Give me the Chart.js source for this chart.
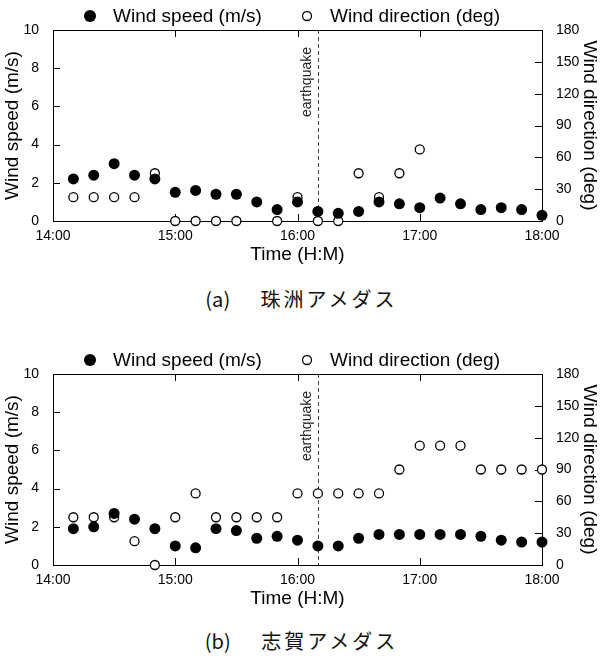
<!DOCTYPE html>
<html><head><meta charset="utf-8">
<script src="https://cdn.jsdelivr.net/npm/chart.js@4.4.1/dist/chart.umd.min.js"></script>
<style>
body{margin:0;background:#fff;width:603px;height:664px;position:relative;overflow:hidden}
.wrap{position:absolute;left:0;width:603px;height:270px}
.cap{position:absolute;left:0;width:603px;text-align:center;font-family:"Noto Sans CJK JP";font-size:20px;line-height:24px;letter-spacing:3px;color:#111;white-space:pre}
.cap span{letter-spacing:0}
</style></head><body>
<div class="wrap" style="top:0"><canvas id="c1" width="603" height="270"></canvas></div>
<div class="wrap" style="top:344px"><canvas id="c2" width="603" height="270"></canvas></div>
<div class="cap" style="top:287px"><span>(a)</span>　 珠洲アメダス</div>
<div class="cap" style="top:629px"><span>(b)</span>　 志賀アメダス</div>
<script>
// ---- data ----
const times = ["14:10","14:20","14:30","14:40","14:50","15:00","15:10","15:20","15:30","15:40","15:50","16:00",
               "16:10","16:20","16:30","16:40","16:50","17:00","17:10","17:20","17:30","17:40","17:50","18:00"];
const suzuSpeed  = [2.2,2.4,3.0,2.4,2.2,1.5,1.6,1.4,1.4,1.0,0.6,1.0,0.5,0.4,0.5,1.0,0.9,0.7,1.2,0.9,0.6,0.7,0.6,0.3];
const suzuDir    = [22.5,22.5,22.5,22.5,45,0,0,0,0,null,0,22.5,0,0,45,22.5,45,67.5,null,null,null,null,null,null];
const shikaSpeed = [1.9,2.0,2.7,2.4,1.9,1.0,0.9,1.9,1.8,1.4,1.5,1.3,1.0,1.0,1.4,1.6,1.6,1.6,1.6,1.6,1.5,1.3,1.2,1.2];
const shikaDir   = [45,45,45,22.5,0,45,67.5,45,45,45,45,67.5,67.5,67.5,67.5,67.5,90,112.5,112.5,112.5,90,90,90,90];
const xTickMin = "14:00", xTickMax = "18:00";
const quakeTime = "16:10";
const seriesNames = ["Wind speed (m/s)", "Wind direction (deg)"];
const xTitle = "Time (H:M)";
const quakeLabel = "earthquake";

const toMin = t => { const [h,m] = t.split(":").map(Number); return h*60+m; };
const fmt = v => Math.floor(v/60) + ":" + String(v%60).padStart(2,"0");
const FONT = "'Liberation Sans', Arial, sans-serif";

const framePlugin = {
  id: "frame",
  beforeDatasetsDraw(chart) {
    const {ctx, chartArea: a, scales} = chart;
    ctx.save();
    ctx.strokeStyle = "#000"; ctx.lineWidth = 1;
    ctx.strokeRect(Math.round(a.left)+0.5, Math.round(a.top)+0.5, Math.round(a.right-a.left), Math.round(a.bottom-a.top));
    const L = 7;
    ctx.beginPath();
    scales.y.ticks.forEach(t => { if (t.value<=scales.y.min || t.value>=scales.y.max) return;
      const p = Math.round(scales.y.getPixelForValue(t.value))+0.5; ctx.moveTo(a.left, p); ctx.lineTo(a.left+L, p); });
    scales.y1.ticks.forEach(t => { if (t.value<=scales.y1.min || t.value>=scales.y1.max) return;
      const p = Math.round(scales.y1.getPixelForValue(t.value))+0.5; ctx.moveTo(a.right, p); ctx.lineTo(a.right-L, p); });
    scales.x.ticks.forEach(t => { if (t.value<=scales.x.min || t.value>=scales.x.max) return;
      const p = Math.round(scales.x.getPixelForValue(t.value))+0.5; ctx.moveTo(p, a.bottom); ctx.lineTo(p, a.bottom-L);
      ctx.moveTo(p, a.top); ctx.lineTo(p, a.top+L); });
    ctx.stroke();
    // earthquake line
    const qx = Math.round(scales.x.getPixelForValue(toMin(quakeTime)))+0.5;
    ctx.strokeStyle = "#444"; ctx.setLineDash([4,3]);
    ctx.beginPath(); ctx.moveTo(qx, a.top); ctx.lineTo(qx, a.bottom); ctx.stroke();
    ctx.setLineDash([]);
    ctx.translate(qx - 11, a.top + 17); ctx.rotate(-Math.PI/2);
    ctx.fillStyle = "#222"; ctx.font = "14px " + FONT; ctx.textAlign = "right"; ctx.textBaseline = "middle";
    ctx.fillText(quakeLabel, 0, 0);
    ctx.restore();
  },
  afterDraw(chart) {
    const {ctx} = chart;
    const ds = chart.data.datasets;
    const items = [{x: 90, tx: 113, d: ds[0], r: 6}, {x: 307, tx: 330, d: ds[1], r: 4.5}];
    const y = 16;
    ctx.save();
    ctx.font = "19px " + FONT; ctx.textBaseline = "middle"; ctx.textAlign = "left";
    items.forEach(it => {
      ctx.beginPath(); ctx.arc(it.x, y, it.r, 0, Math.PI*2);
      ctx.fillStyle = it.d.backgroundColor; ctx.fill();
      if (it.d.borderWidth) { ctx.lineWidth = it.d.borderWidth; ctx.strokeStyle = it.d.borderColor; ctx.stroke(); }
      ctx.fillStyle = "#000"; ctx.fillText(it.d.label, it.tx, y + 1);
    });
    ctx.restore();
  }
};

function makeChart(id, speed, dir) {
  const H = 270;
  return new Chart(document.getElementById(id), {
    type: "scatter",
    data: { datasets: [
      { label: seriesNames[0], data: times.map((t,i)=>({x: toMin(t), y: speed[i]})), yAxisID: "y",
        pointRadius: 5.5, pointHoverRadius: 5.5, backgroundColor: "#000", borderColor: "#000", borderWidth: 0, clip: false },
      { label: seriesNames[1], data: times.map((t,i)=>({x: toMin(t), y: dir[i]})), yAxisID: "y1",
        pointRadius: 4.5, pointHoverRadius: 4.5, backgroundColor: "#fff", borderColor: "#000", borderWidth: 1.3, clip: false }
    ]},
    options: {
      responsive: false, animation: false, devicePixelRatio: 1,
      layout: { padding: { top: 30, left: 0, right: 0, bottom: 0 } },
      plugins: { legend: { display: false }, tooltip: { enabled: false } },
      scales: {
        x: { type: "linear", position: "bottom", min: toMin(xTickMin), max: toMin(xTickMax),
             ticks: { stepSize: 60, callback: v => fmt(v), color: "#000", font: { family: FONT, size: 14 }, padding: 7, maxRotation: 0 },
             grid: { display: false, drawTicks: false }, border: { display: false },
             title: { display: true, text: xTitle, color: "#000", font: { family: FONT, size: 19 }, padding: { top: 2, bottom: 4 } },
             afterFit: s => { s.height = H - 221; } },
        y: { position: "left", min: 0, max: 10,
             ticks: { stepSize: 2, color: "#000", font: { family: FONT, size: 14 }, padding: 14 },
             grid: { display: false, drawTicks: false }, border: { display: false },
             title: { display: true, text: seriesNames[0], color: "#000", font: { family: FONT, size: 19 }, padding: { top: 1, bottom: 0 } },
             afterFit: s => { s.width = 53; } },
        y1: { position: "right", min: 0, max: 180,
             ticks: { stepSize: 30, color: "#000", font: { family: FONT, size: 14 }, padding: 14 },
             grid: { display: false, drawTicks: false }, border: { display: false },
             title: { display: true, text: seriesNames[1], color: "#000", font: { family: FONT, size: 19 }, padding: { top: 2, bottom: 0 } },
             afterFit: s => { s.width = 61; } }
      }
    },
    plugins: [framePlugin]
  });
}
makeChart("c1", suzuSpeed, suzuDir);
makeChart("c2", shikaSpeed, shikaDir);
</script>
</body></html>
